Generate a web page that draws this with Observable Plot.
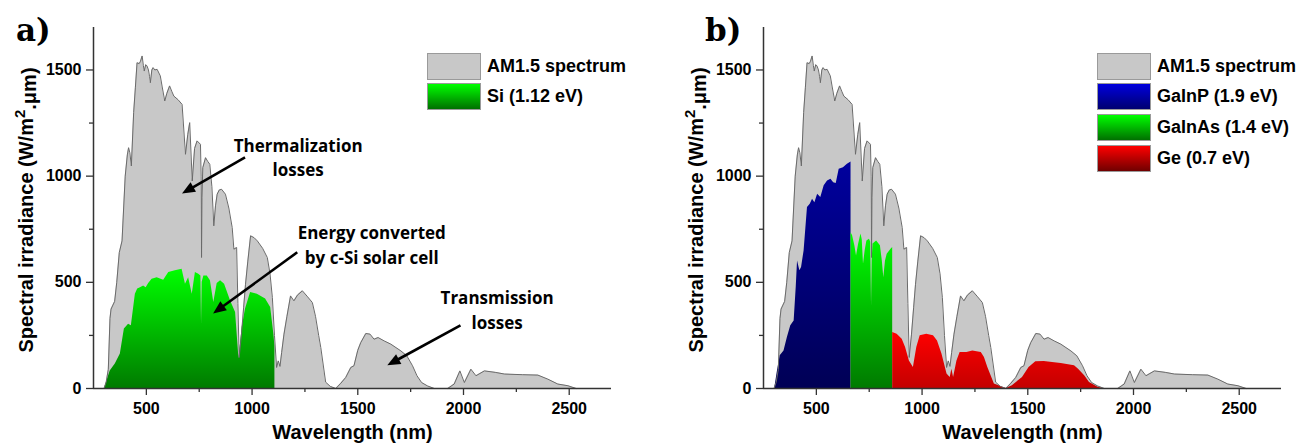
<!DOCTYPE html>
<html>
<head>
<meta charset="utf-8">
<script src="https://cdn.jsdelivr.net/npm/d3@7"></script>
<script src="https://cdn.jsdelivr.net/npm/@observablehq/plot@0.6"></script>
<style>
  body { margin: 0; background: #fff; }
  #wrap { position: relative; width: 1314px; height: 445px; overflow: hidden; }
  .panel { position: absolute; top: 0; }
  .legend { position: absolute; top: 53px; font: bold 18px "Liberation Sans", Arial, sans-serif; color: #000; }
  .legend .row { display: flex; align-items: center; height: 26.5px; margin-bottom: 4.2px; }
  .legend .swatch { width: 52px; height: 25px; border: 1px solid #9a9a9a; margin-right: 6px; box-sizing: content-box; }
</style>
</head>
<body>
<div id="wrap"></div>
<script>
// AM1.5 global solar spectrum (nm, W/m²·µm)
const am15Wavelength = [300, 310, 320, 328, 333, 350, 360, 372, 385, 400, 410, 416, 422, 429, 440, 448, 456, 466, 472, 480, 486, 490, 497, 503, 510, 515, 519, 526, 532, 540, 551, 566, 575, 587, 597, 610, 620, 630, 650, 669, 685, 696, 705, 717, 728, 740, 756, 759, 761, 763, 767, 780, 790, 800, 810, 819, 827, 835, 845, 856, 874, 890, 906, 914, 927, 933, 939, 950, 960, 969, 980, 993, 1010, 1025, 1050, 1072, 1085, 1096, 1106, 1116, 1124, 1132, 1140, 1151, 1165, 1182, 1198, 1215, 1238, 1260, 1285, 1300, 1315, 1325, 1348, 1370, 1396, 1420, 1443, 1467, 1482, 1500, 1514, 1538, 1558, 1577, 1596, 1625, 1656, 1704, 1732, 1759, 1780, 1802, 1830, 1862, 1925, 1956, 1983, 2004, 2035, 2059, 2099, 2150, 2194, 2280, 2352, 2399, 2446, 2494, 2533];
const am15Irradiance = [0, 30, 90, 330, 374, 410, 500, 640, 695, 1000, 1100, 1134, 1110, 1048, 1300, 1416, 1534, 1530, 1540, 1566, 1520, 1495, 1525, 1519, 1500, 1470, 1440, 1500, 1511, 1500, 1503, 1472, 1420, 1354, 1390, 1425, 1400, 1377, 1360, 1338, 1103, 1197, 1252, 977, 1130, 1166, 1150, 1000, 617, 900, 1040, 1087, 1070, 1056, 950, 766, 860, 915, 935, 938, 915, 850, 758, 656, 664, 400, 146, 256, 380, 491, 600, 719, 710, 695, 660, 617, 540, 428, 250, 99, 130, 104, 170, 256, 340, 436, 413, 440, 460, 435, 405, 340, 250, 193, 30, 10, 0, 25, 52, 99, 107, 180, 216, 259, 256, 232, 240, 224, 209, 177, 154, 107, 60, 28, 12, 0, 0, 21, 83, 28, 91, 60, 83, 76, 68, 65, 63, 44, 21, 13, 0];

// Single-junction c-Si (1.12 eV) usable part
const siWavelength = [302, 329, 353, 377, 396, 416, 429, 448, 459, 472, 487, 499, 511, 527, 551, 582, 606, 637, 669, 685, 700, 717, 732, 748, 758, 761, 764, 772, 788, 803, 819, 835, 851, 870, 898, 922, 938, 953, 969, 993, 1025, 1064, 1088, 1103, 1108];
const siIrradiance = [0, 83, 115, 162, 280, 303, 295, 444, 468, 475, 483, 475, 494, 515, 522, 510, 546, 554, 562, 491, 522, 444, 546, 538, 530, 303, 500, 530, 530, 507, 405, 494, 507, 491, 413, 358, 140, 287, 374, 452, 444, 421, 381, 256, 200];

// Triple junction: GaInP top cell (1.9 eV)
const gainpWavelength = [303, 316, 329, 347, 363, 379, 395, 405, 411, 422, 430, 442, 458, 471, 482, 493, 506, 521, 537, 553, 569, 582, 594, 608, 628, 647, 664];
const gainpIrradiance = [0, 83, 154, 177, 240, 295, 318, 480, 601, 554, 570, 648, 852, 868, 891, 875, 915, 899, 955, 977, 985, 969, 965, 1032, 1040, 1056, 1067];

// GaInAs middle cell (1.4 eV)
const gainasWavelength = [664, 671, 682, 690, 700, 711, 717, 723, 731, 739, 751, 757, 761, 764, 768, 785, 803, 812, 819, 827, 835, 853, 861];
const gainasIrradiance = [734, 720, 672, 624, 680, 727, 700, 585, 650, 695, 703, 690, 389, 600, 680, 695, 672, 600, 522, 600, 632, 656, 664];

// Ge bottom cell (0.7 eV)
const geWavelength = [861, 882, 906, 922, 940, 959, 975, 991, 1022, 1054, 1073, 1094, 1118, 1133, 1141, 1149, 1165, 1180, 1212, 1240, 1280, 1295, 1311, 1342, 1398, 1427, 1475, 1506, 1538, 1578, 1617, 1658, 1721, 1740, 1769, 1792, 1832, 1856];
const geIrradiance = [264, 256, 232, 193, 130, 99, 193, 248, 256, 248, 224, 162, 68, 52, 91, 52, 130, 169, 169, 177, 169, 146, 99, 21, 0, 13, 52, 99, 126, 127, 122, 118, 107, 91, 60, 28, 6, 0];

// Axis ticks
const xTicks = [500, 1000, 1500, 2000, 2500];
const xMinorTicks = [750, 1250, 1750, 2250];
const yTicks = [0, 500, 1000, 1500];
const yMinorTicks = [250, 750, 1250];

// Legend labels
const legendA = ["AM1.5 spectrum", "Si (1.12 eV)"];
const legendB = ["AM1.5 spectrum", "GaInP (1.9 eV)", "GaInAs (1.4 eV)", "Ge (0.7 eV)"];

const toRows = (xs, ys) => xs.map((x, i) => ({nm: x, v: ys[i]}));
const am15 = toRows(am15Wavelength, am15Irradiance);

// Gradient fills (top colour, bottom colour)
const fills = {
  green: ["#00ff00", "#007a00"],
  blue: ["#00009e", "#000055"],
  red: ["#ff0000", "#c40000"]
};
const swatches = {
  grey: "#c8c8c8",
  green: "linear-gradient(#00ff00, #007000)",
  blue: "linear-gradient(#0000dd, #000070)",
  red: "linear-gradient(#ff0000, #700000)"
};

function gradientDefs(prefix) {
  return () => {
    const defs = d3.create("svg:defs");
    for (const [name, [top, bottom]] of Object.entries(fills)) {
      const lg = defs.append("linearGradient")
        .attr("id", `${prefix}-${name}`)
        .attr("x1", 0).attr("y1", 0).attr("x2", 0).attr("y2", 1);
      lg.append("stop").attr("offset", 0).attr("stop-color", top);
      lg.append("stop").attr("offset", 1).attr("stop-color", bottom);
    }
    return defs.node();
  };
}

// Straight arrows with filled heads, placed in data coordinates
function arrowMark(arrows) {
  return (index, scales) => {
    const g = d3.create("svg:g");
    for (const a of arrows) {
      const x1 = scales.x(a.x1), y1 = scales.y(a.y1);
      const x2 = scales.x(a.x2), y2 = scales.y(a.y2);
      const ang = Math.atan2(y2 - y1, x2 - x1);
      const L = 13, W = 5.5;
      const bx = x2 - L * Math.cos(ang), by = y2 - L * Math.sin(ang);
      const s = Math.sin(ang), c = Math.cos(ang);
      g.append("line")
        .attr("x1", x1).attr("y1", y1).attr("x2", bx + 2 * c).attr("y2", by + 2 * s)
        .attr("stroke", "#000").attr("stroke-width", 2.6);
      g.append("path")
        .attr("d", `M${x2},${y2}L${bx - W * s},${by + W * c}L${bx + W * s},${by - W * c}Z`)
        .attr("fill", "#000");
    }
    return g.node();
  };
}

function panel({prefix, width, marginRight, layers, notes, arrows, title, titleX}) {
  const axisStyle = {fontSize: 16, fontWeight: "bold", fontFamily: "Liberation Sans, Arial, sans-serif"};
  const svg = Plot.plot({
    width, height: 445,
    marginLeft: 93, marginRight, marginTop: 27, marginBottom: 57,
    x: {domain: [250, 2700]},
    y: {domain: [0, 1700]},
    style: {background: "transparent", color: "#000", fontFamily: "Liberation Sans, Arial, sans-serif", overflow: "visible"},
    marks: [
      gradientDefs(prefix),
      Plot.areaY(am15, {x: "nm", y: "v", fill: "#c8c8c8"}),
      ...layers.map(l => Plot.areaY(toRows(l.x, l.y), {x: "nm", y: "v", fill: `url(#${prefix}-${l.fill})`})),
      Plot.lineY(am15, {x: "nm", y: "v", stroke: "#6a6a6a", strokeWidth: 1}),
      Plot.ruleX([250], {stroke: "#333", strokeWidth: 1.5}),
      Plot.ruleY([0], {stroke: "#333", strokeWidth: 1.5}),
      Plot.axisX({ticks: xTicks, tickSize: 7, tickPadding: 7, tickFormat: d3.format("d"), label: null, stroke: "#333", strokeWidth: 1.3, ...axisStyle}),
      Plot.axisX({ticks: xMinorTicks, tickSize: 4, text: null, label: null, stroke: "#333", strokeWidth: 1.3}),
      Plot.axisY({ticks: yTicks, tickSize: 7, tickPadding: 5, tickFormat: d3.format("d"), label: null, stroke: "#333", strokeWidth: 1.3, ...axisStyle}),
      Plot.axisY({ticks: yMinorTicks, tickSize: 4, text: null, label: null, stroke: "#333", strokeWidth: 1.3}),
      Plot.text(["Wavelength (nm)"], {text: d => d, frameAnchor: "bottom", lineAnchor: "middle", dy: 44, fontSize: 20, fontWeight: "bold", fontFamily: "Liberation Sans, Arial, sans-serif", fill: "#000"}),
      Plot.text(notes, {x: "x", y: "y", text: "text", lineHeight: 1.45, fontSize: 17, fontWeight: "bold", fontFamily: "Open Sans, sans-serif", fill: "#000"}),
      arrowMark(arrows)
    ]
  });

  const root = d3.select(svg);
  // Rotated y-axis title with a raised exponent
  const yl = root.append("text")
    .attr("transform", "translate(33,210) rotate(-90)")
    .attr("text-anchor", "middle")
    .style("font", "bold 20px 'Liberation Sans', Arial, sans-serif")
    .attr("fill", "#000");
  yl.append("tspan").text("Spectral irradiance (W/m");
  yl.append("tspan").attr("dy", "-0.55em").style("font-size", "15px").text("2");
  yl.append("tspan").attr("dy", "0.55em").text(".\u03bcm)");

  // Panel letter
  root.append("text")
    .attr("x", titleX).attr("y", 41)
    .attr("text-anchor", "start")
    .style("font", "bold 31px 'DejaVu Serif', serif")
    .attr("fill", "#000")
    .text(title);
  return svg;
}

function legend(left, labels, keys) {
  const div = d3.create("div").attr("class", "legend").style("left", left + "px");
  labels.forEach((label, i) => {
    const row = div.append("div").attr("class", "row");
    row.append("div").attr("class", "swatch").style("background", swatches[keys[i]]);
    row.append("span").text(label);
  });
  return div.node();
}

const wrap = document.getElementById("wrap");

const panelA = panel({
  prefix: "pa", width: 670, marginRight: 59, title: "a)", titleX: 16,
  layers: [{x: siWavelength, y: siIrradiance, fill: "green"}],
  notes: [
    {x: 1218, y: 1095, text: "Thermalization\nlosses"},
    {x: 1566, y: 681, text: "Energy converted\nby c-Si solar cell"},
    {x: 2159, y: 377, text: "Transmission\nlosses"}
  ],
  arrows: [
    {x1: 969, y1: 1086, x2: 671, y2: 916},
    {x1: 1216, y1: 639, x2: 818, y2: 351},
    {x1: 1988, y1: 295, x2: 1642, y2: 107}
  ]
});
const divA = document.createElement("div");
divA.className = "panel"; divA.style.left = "0px";
divA.appendChild(panelA);
wrap.appendChild(divA);

const panelB = panel({
  prefix: "pb", width: 644, marginRight: 33, title: "b)", titleX: 35,
  layers: [
    {x: gainpWavelength, y: gainpIrradiance, fill: "blue"},
    {x: gainasWavelength, y: gainasIrradiance, fill: "green"},
    {x: geWavelength, y: geIrradiance, fill: "red"}
  ],
  notes: [],
  arrows: []
});
const divB = document.createElement("div");
divB.className = "panel"; divB.style.left = "670px";
divB.appendChild(panelB);
wrap.appendChild(divB);

wrap.appendChild(legend(427, legendA, ["grey", "green"]));
wrap.appendChild(legend(1097, legendB, ["grey", "blue", "green", "red"]));
</script>
</body>
</html>
